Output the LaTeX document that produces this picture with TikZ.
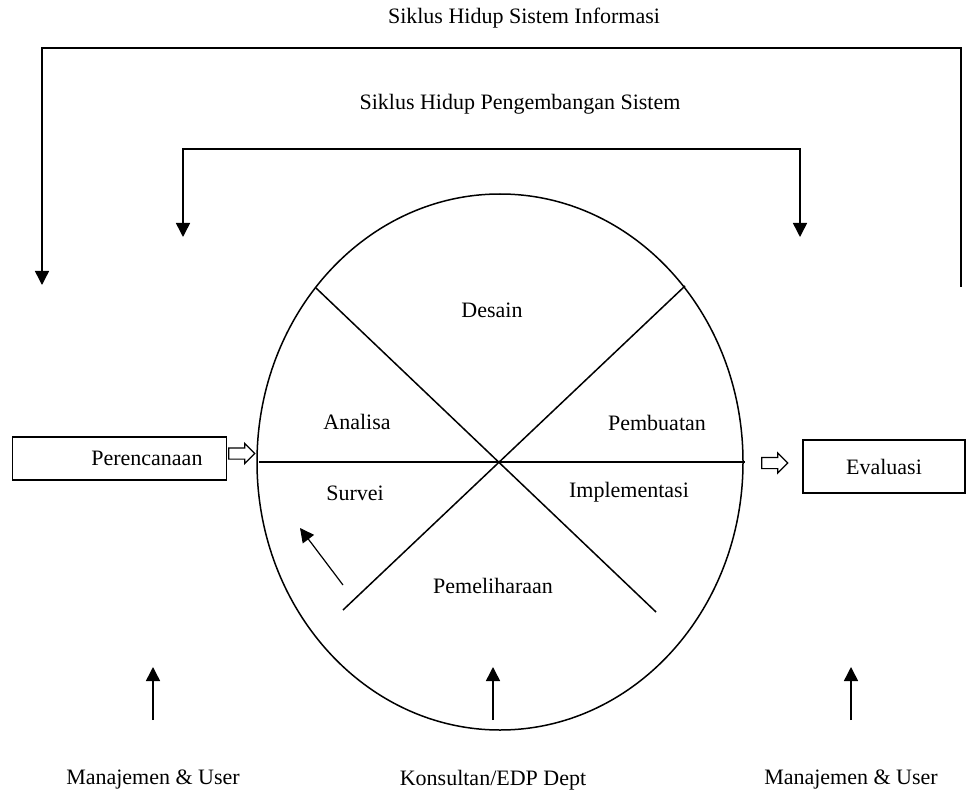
\documentclass[tikz,border=0pt]{standalone}
\usepackage{fontspec}
\setmainfont{Liberation Serif}
\usetikzlibrary{arrows.meta,shapes.arrows,positioning}

\begin{document}
\begin{tikzpicture}[x = 1pt, y = -1pt, line width = 1.5,
  lbl/.style = {font = \fontsize{22}{26}\selectfont, inner sep = 0},
  tip/.style = {-{Triangle[width = 14, length = 14]}},
  hollow/.style = {single arrow, draw, line width = 1.2, inner sep = 0, inner ysep = 5,
    single arrow head extend = 4.5, minimum height = 26}]
\useasboundingbox (0,0) rectangle (966,794);
% titles and frames
\node[lbl] (sihi) at (524,18) {Siklus Hidup Sistem Informasi};
\node[lbl] (shps) at (520,104) {Siklus Hidup Pengembangan Sistem};
\coordinate (oL) at (42,285); \coordinate (oTL) at (42,48);
\coordinate (oTR) at (961,48); \coordinate (oR) at (961,287);
\coordinate (iL) at (183,237); \coordinate (iTL) at (183,149);
\coordinate (iTR) at (800,149); \coordinate (iR) at (800,237);
\draw[tip] (oR) -- (oTR) -- (oTL) -- (oL);
\draw[tip] (iTL) -- (iTR) -- (iR);
\draw[tip] (iTR) -- (iTL) -- (iL);
% the wheel
\coordinate (c) at (500,462);
\draw (c) ellipse [x radius = 243, y radius = 268];
\draw (259,462) -- (745,462);
\draw (316,288) -- (656,612);
\draw (685,286) -- (343,610);
\node[lbl] (desain) at (492,310) {Desain};
\node[lbl] (analisa) at (357,422) {Analisa};
\node[lbl] (pembuatan) at (657,423) {Pembuatan};
\node[lbl] (survei) at (355,493) {Survei};
\node[lbl] (impl) at (629,492) {Implementasi};
\node[lbl] (pemel) at (493,586) {Pemeliharaan};
\coordinate (sv1) at (343,585); \coordinate (sv2) at (300,528);
\draw[tip, line width = 1.2] (sv1) -- (sv2);
% boxes
\node[lbl, draw, text width = 166, inner xsep = 24, align = right, minimum height = 43] (renc) at (119.5,458.5) {Perencanaan};
\node[lbl, draw, minimum width = 162, minimum height = 53] (eval) at (884,466.5) {Evaluasi};
\node[hollow] (ha1) at (239,453.5) {};
\node[hollow] (ha2) at (772,463) {};
% bottom
\foreach \n/\x/\t in {m1/153/Manajemen \& User, ko/493/{Konsultan/EDP Dept}, m2/851/Manajemen \& User} {
\node[lbl] (\n) at (\x,780) {\t};
\coordinate (\n a) at (\x,720);
\coordinate (\n b) at (\x,667);
\draw[tip] (\n a) -- (\n b);
}
\end{tikzpicture}
\end{document}
